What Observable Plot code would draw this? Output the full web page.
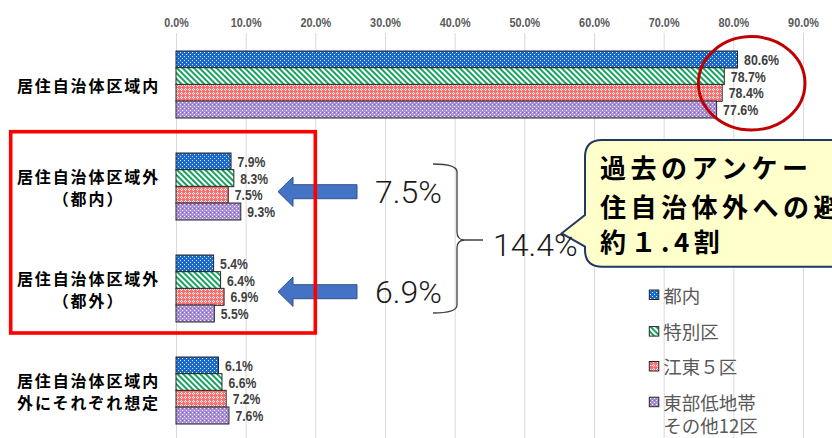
<!DOCTYPE html>
<html><head><meta charset="utf-8">
<script src="https://cdn.jsdelivr.net/npm/d3@7"></script>
<script src="https://cdn.jsdelivr.net/npm/@observablehq/plot@0.6"></script>
<style>
html,body{margin:0;padding:0;overflow:hidden;background:#fff;}
#wrap{position:relative;width:832px;height:438px;overflow:hidden;}
#wrap > svg{position:absolute;left:0;top:0;}
g[aria-description="ylabels"] text{letter-spacing:1.9px;}
</style></head><body>
<svg width="0" height="0" style="position:absolute">
<defs>
<pattern id="p0" width="4" height="4" patternUnits="userSpaceOnUse">
<rect width="4" height="4" fill="#1B6AC9"/><rect x="0" y="0" width="1" height="1" fill="#fff" opacity="0.85"/><rect x="2" y="2" width="1" height="1" fill="#fff" opacity="0.85"/>
</pattern>
<pattern id="p1" width="4" height="4" patternUnits="userSpaceOnUse" patternTransform="rotate(-45)">
<rect width="4" height="4" fill="#fff"/><rect width="2" height="4" fill="#16A35E"/>
</pattern>
<pattern id="p2" width="4" height="4" patternUnits="userSpaceOnUse">
<rect width="4" height="4" fill="#FF6E6E"/><rect x="1" y="0" width="1" height="1" fill="#fff"/><rect x="0" y="1" width="1" height="1" fill="#fff"/><rect x="2" y="1" width="1" height="1" fill="#fff"/><rect x="1" y="2" width="1" height="1" fill="#fff"/>
</pattern>
<pattern id="p3" width="4" height="4" patternUnits="userSpaceOnUse">
<rect width="4" height="4" fill="#A88FD6"/><rect x="0" y="0" width="1" height="1" fill="#fff" opacity="0.9"/><rect x="2" y="2" width="1" height="1" fill="#fff" opacity="0.9"/><rect x="2" y="0" width="1" height="1" fill="#7A5CB8"/>
</pattern>
</defs></svg>
<div id="wrap"></div>
<script>
// ---- data ----
const categories = ["居住自治体区域内", "居住自治体区域外\n（都内）", "居住自治体区域外\n（都外）", "居住自治体区域内\n外にそれぞれ想定"];
const seriesNames = ["都内", "特別区", "江東５区", "東部低地帯\nその他12区"];
const tonai = [80.6, 7.9, 5.4, 6.1];
const tokubetsuku = [78.7, 8.3, 6.4, 6.6];
const koto5ku = [78.4, 7.5, 6.9, 7.2];
const toubuOther12 = [77.6, 9.3, 5.5, 7.6];
const xTicks = [0, 10, 20, 30, 40, 50, 60, 70, 80, 90];
const arrowValues = ["7.5%", "6.9%"];
const sumValue = "14.4%";
const calloutLines = ["過去のアンケー", "住自治体外への避", "約１.4割"];
const seriesFills = ["url(#p0)", "url(#p1)", "url(#p2)", "url(#p3)"];

const seriesValues = [tonai, tokubetsuku, koto5ku, toubuOther12];
const rows = [];
seriesValues.forEach((vals, s) => vals.forEach((v, c) => rows.push({cat: categories[c], s, v})));

// band geometry
const yRange = [51, 424], padIn = 0.347;
const step = (yRange[1] - yRange[0]) / (categories.length - padIn);
const bw = step * (1 - padIn);
const barH = bw / seriesNames.length;

const narrow = "'Liberation Sans Narrow','Liberation Sans',Arial,sans-serif";
const cjk = "'Noto Sans CJK JP','Noto Sans',sans-serif";

const marks = [
  Plot.ruleX(xTicks, {x: d => d, stroke: "#d9d9d9", strokeWidth: 1}),
  Plot.text(xTicks, {x: d => d, frameAnchor: "top", dy: -15, text: d => d.toFixed(1) + "%",
    fontFamily: narrow, fontWeight: "bold", fontSize: 12.5, fill: "#595959", ariaDescription: "ticks"}),
  Plot.text(categories, {y: d => d, text: d => d, frameAnchor: "left", dx: -88, textAnchor: "middle",
    lineHeight: 1.35, fontSize: 16, fontWeight: "bold", fill: "#000", fontFamily: cjk, ariaDescription: "ylabels"})
];
seriesNames.forEach((name, i) => {
  const data = rows.filter(d => d.s === i);
  marks.push(Plot.barX(data, {x: "v", y: "cat", fill: seriesFills[i], stroke: "#262626", strokeWidth: 1,
    insetTop: i * barH, insetBottom: (seriesNames.length - 1 - i) * barH}));
  marks.push(Plot.text(data, {x: "v", y: "cat", text: d => d.v.toFixed(1) + "%", dx: 6, dy: (i - 1.5) * barH,
    textAnchor: "start", fontFamily: narrow, fontWeight: "bold", fontSize: 15.5, fill: "#404040", ariaDescription: "values"}));
});

const chart = Plot.plot({
  width: 832, height: 438,
  marginLeft: 176, marginRight: 29, marginTop: 33, marginBottom: 0,
  style: {background: "transparent"},
  x: {domain: [0, 90], axis: null},
  y: {domain: categories, range: yRange, paddingInner: padIn, paddingOuter: 0, axis: null},
  marks
});
const wrap = document.getElementById("wrap");
wrap.appendChild(chart);

// condensed look for numeric labels (the reference uses a narrow bold face)
function condense(sel, dW, pW, dotW) {
  d3.select(chart).selectAll(sel).each(function () {
    const s = this.textContent;
    const w = [...s].reduce((a, c) => a + (c === "." ? dotW : c === "%" ? pW : dW), 0);
    this.setAttribute("textLength", w);
    this.setAttribute("lengthAdjust", "spacingAndGlyphs");
  });
}
condense('g[aria-description="values"] text', 7.3, 9.8, 3.4);
condense('g[aria-description="ticks"] text', 6.2, 9.2, 3);

// ---- annotation overlay ----
const ov = d3.select(wrap).append("svg").attr("width", 832).attr("height", 438);

// arrows
const arrowYs = [191.7, 291.7];
arrowYs.forEach((cy, k) => {
  ov.append("path")
    .attr("d", `M278,${cy} L293,${cy-14.7} L293,${cy-7} L357,${cy-7} L357,${cy+7} L293,${cy+7} L293,${cy+14.7} Z`)
    .attr("fill", "#4472C4").attr("stroke", "#2F528F").attr("stroke-width", 1);
  ov.append("text").attr("x", 375).attr("y", cy).attr("dominant-baseline", "central")
    .attr("font-family", "Roboto,'Liberation Sans',sans-serif").attr("font-weight", 300)
    .attr("font-size", 32).attr("fill", "#1a1a1a").text(arrowValues[k]);
});

// red rectangle
ov.append("rect").attr("x", 10.7).attr("y", 131.7).attr("width", 304.6).attr("height", 201.3)
  .attr("fill", "none").attr("stroke", "#FF0000").attr("stroke-width", 3.6);

// brace
ov.append("path")
  .attr("d", "M433,164 Q457,164 457,172 L457,232 Q457,240 465,240 L483,240 M465,240 Q457,240 457,248 L457,305 Q457,313 433,313")
  .attr("fill", "none").attr("stroke", "#404040").attr("stroke-width", 1.3);

// callout
ov.append("path")
  .attr("d", "M602,140 L900,140 L900,266.7 L602,266.7 Q585,266.7 585,249.7 L585,246.7 L561.7,233.3 L585,215 L585,157 Q585,140 602,140 Z")
  .attr("fill", "#FFFFCC").attr("stroke", "#203864").attr("stroke-width", 2);
ov.append("text").attr("x", 493).attr("y", 245).attr("dominant-baseline", "central")
  .attr("font-family", "Roboto,'Liberation Sans',sans-serif").attr("font-weight", 300)
  .attr("font-size", 32).attr("fill", "#1a1a1a").text(sumValue);
const calloutYs = [166.7, 205, 240];
calloutLines.forEach((t, k) => {
  ov.append("text").attr("x", 600).attr("y", calloutYs[k]).attr("dominant-baseline", "central")
    .attr("font-family", cjk).attr("font-weight", "bold").attr("font-size", 26)
    .attr("letter-spacing", "4.5px").attr("fill", "#000").text(t);
});

// ellipse
ov.append("ellipse").attr("cx", 751.7).attr("cy", 83.3).attr("rx", 53.3).attr("ry", 46.7)
  .attr("fill", "none").attr("stroke", "#C00000").attr("stroke-width", 3);

// legend
const legYs = [294.7, 331.3, 366.2, 401.9];
seriesNames.forEach((name, i) => {
  const cy = legYs[i];
  ov.append("rect").attr("x", 649.3).attr("y", cy - 4.7).attr("width", 9.5).attr("height", 9.5)
    .attr("fill", seriesFills[i]).attr("stroke", "#262626").attr("stroke-width", 1);
  const t = ov.append("text").attr("x", 663.3).attr("y", cy).attr("dominant-baseline", "central")
    .attr("font-family", cjk).attr("font-size", 18.5).attr("fill", "#595959");
  name.split("\n").forEach((ln, j) => {
    t.append("tspan").attr("x", 663.3).attr("dy", j === 0 ? 0 : 23.4).text(ln);
  });
});
</script>
</body></html>
